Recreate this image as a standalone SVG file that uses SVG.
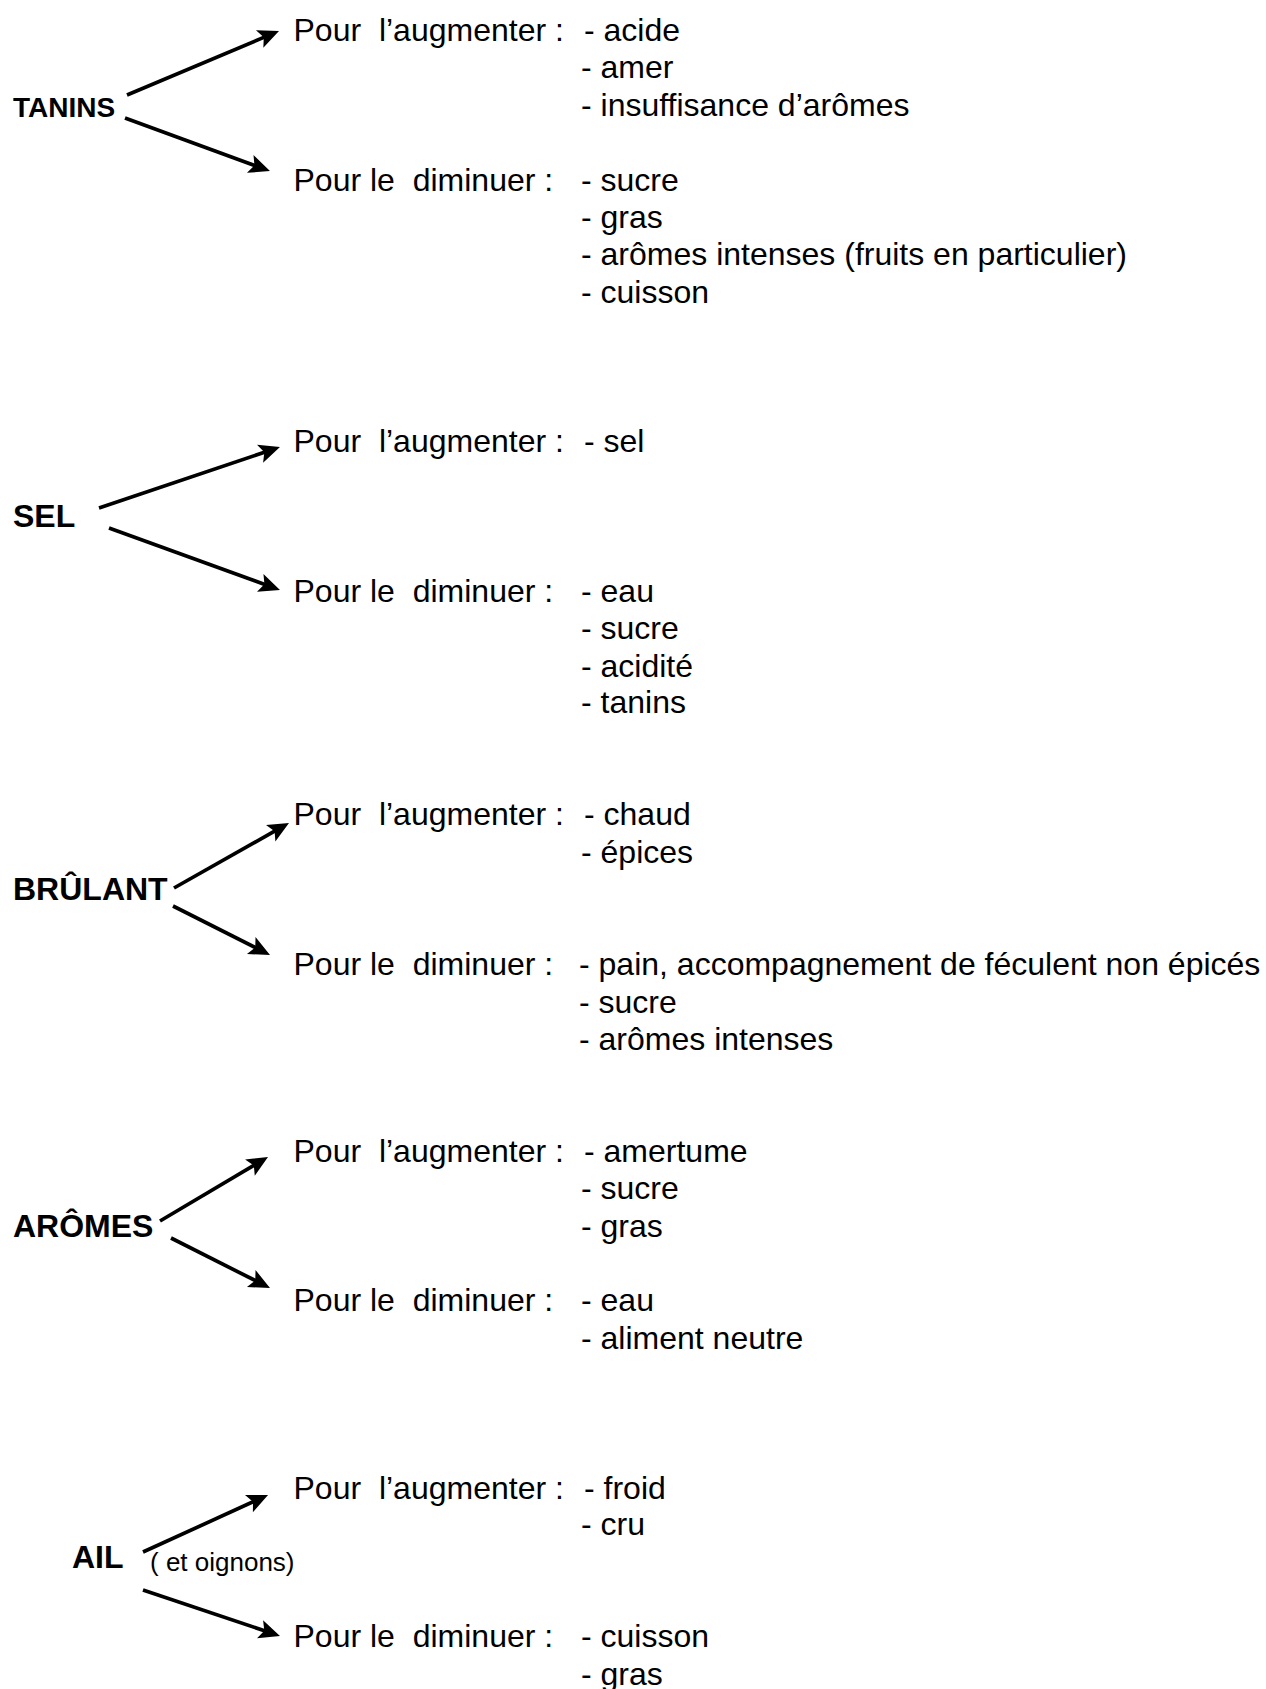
<svg xmlns="http://www.w3.org/2000/svg" width="1266" height="1689" viewBox="0 0 1266 1689">
<style>
  text { font-family: "Liberation Sans", Arial, sans-serif; fill: #000; white-space: pre; }
  .t { font-size: 32px; }
  .h { font-size: 32px; font-weight: bold; }
  .s { font-size: 26px; }
  .c line { stroke: #000; stroke-width: 3.7; fill: none; marker-end: url(#ah); }
</style>
<defs>
  <marker id="ah" markerUnits="userSpaceOnUse" orient="auto" viewBox="-10 -12 28 24" refX="0" refY="0" markerWidth="28" markerHeight="24" overflow="visible">
    <path d="M14,0 L-7,-9.5 L-2.5,0 L-7,9.5 Z" fill="#000"/>
  </marker>
</defs>
<rect width="1266" height="1689" fill="#fff"/>

<g id="connectors" class="c">
  <line x1="127" y1="95" x2="266.1" y2="36.4"/>
  <line x1="125" y1="118" x2="256.8" y2="166.3"/>
  <line x1="99" y1="508" x2="266.7" y2="451.5"/>
  <line x1="109" y1="528" x2="266.8" y2="585.2"/>
  <line x1="174" y1="888" x2="276.8" y2="829.9"/>
  <line x1="173" y1="906" x2="257.5" y2="948.7"/>
  <line x1="160" y1="1221" x2="255.96" y2="1164.1"/>
  <line x1="171" y1="1238" x2="257.5" y2="1281.7"/>
  <line x1="143" y1="1552" x2="255.3" y2="1500.8"/>
  <line x1="143" y1="1590" x2="266.7" y2="1631.5"/>
</g>

<g id="tanins">
  <text class="h" x="13" y="117" style="font-size:28px">TANINS</text>
  <text class="t" x="293.5" y="41">Pour  l’augmenter :</text>
  <text class="t" x="584" y="41">- acide</text>
  <text class="t" x="581" y="78.4">- amer</text>
  <text class="t" x="581" y="115.8">- insuffisance d’arômes</text>
  <text class="t" x="293.5" y="190.6">Pour le  diminuer :</text>
  <text class="t" x="581" y="190.6">- sucre</text>
  <text class="t" x="581" y="228">- gras</text>
  <text class="t" x="581" y="265.4">- arômes intenses (fruits en particulier)</text>
  <text class="t" x="581" y="302.8">- cuisson</text>
</g>

<g id="sel">
  <text class="h" x="13" y="526.5">SEL</text>
  <text class="t" x="293.5" y="452">Pour  l’augmenter :</text>
  <text class="t" x="584" y="452">- sel</text>
  <text class="t" x="293.5" y="602">Pour le  diminuer :</text>
  <text class="t" x="581" y="602">- eau</text>
  <text class="t" x="581" y="639">- sucre</text>
  <text class="t" x="581" y="676.5">- acidité</text>
  <text class="t" x="581" y="713">- tanins</text>
</g>

<g id="brulant">
  <text class="h" x="13" y="900">BRÛLANT</text>
  <text class="t" x="293.5" y="825">Pour  l’augmenter :</text>
  <text class="t" x="584" y="825">- chaud</text>
  <text class="t" x="581" y="862.5">- épices</text>
  <text class="t" x="293.5" y="975">Pour le  diminuer :</text>
  <text class="t" x="579" y="975">- pain, accompagnement de féculent non épicés</text>
  <text class="t" x="579" y="1012.5">- sucre</text>
  <text class="t" x="579" y="1050">- arômes intenses</text>
</g>

<g id="aromes">
  <text class="h" x="13" y="1236.5">ARÔMES</text>
  <text class="t" x="293.5" y="1162">Pour  l’augmenter :</text>
  <text class="t" x="584" y="1162">- amertume</text>
  <text class="t" x="581" y="1199">- sucre</text>
  <text class="t" x="581" y="1236.5">- gras</text>
  <text class="t" x="293.5" y="1311">Pour le  diminuer :</text>
  <text class="t" x="581" y="1311">- eau</text>
  <text class="t" x="581" y="1348.5">- aliment neutre</text>
</g>

<g id="ail">
  <text class="h" x="72" y="1568">AIL</text>
  <text class="s" x="150" y="1571">( et oignons)</text>
  <text class="t" x="293.5" y="1498.5">Pour  l’augmenter :</text>
  <text class="t" x="584" y="1498.5">- froid</text>
  <text class="t" x="581" y="1535">- cru</text>
  <text class="t" x="293.5" y="1647">Pour le  diminuer :</text>
  <text class="t" x="581" y="1647">- cuisson</text>
  <text class="t" x="581" y="1684.5">- gras</text>
</g>
</svg>
